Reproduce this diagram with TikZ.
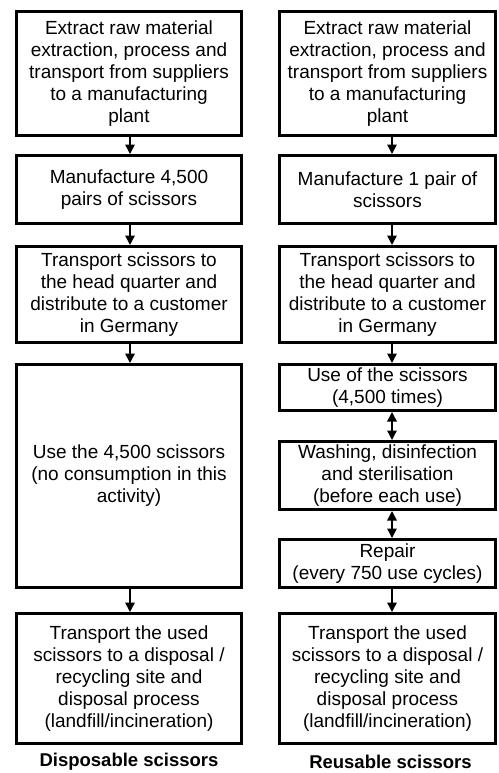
\documentclass[tikz,border=0pt]{standalone}
\usepackage{fontspec}
\setmainfont{Liberation Sans}
\usetikzlibrary{arrows.meta}
\begin{document}
\begin{tikzpicture}[x=1pt,y=-1pt,
 box/.style={draw, line width=3pt, align=center, inner sep=0pt, font=\fontsize{19}{22}\selectfont},
 flow/.style={-{Triangle[length=9.5pt,width=9.5pt]}, line width=1.5pt},
 both/.style={{Triangle[length=9.5pt,width=9.5pt]}-{Triangle[length=9.5pt,width=9.5pt]}, line width=1.5pt},
 lab/.style={font=\bfseries\fontsize{18.5}{22}\selectfont}]
\useasboundingbox (0,0) rectangle (498,773);
% left column
\node[box, minimum width=225pt, minimum height=124pt] (L1) at (129,73.5) {Extract raw material\\extraction, process and\\transport from suppliers\\to a manufacturing\\plant};
\node[box, minimum width=225pt, minimum height=68pt] (L2) at (129,189.5) {Manufacture 4,500\\pairs of scissors};
\node[box, minimum width=225pt, minimum height=96pt] (L3) at (129,294.5) {Transport scissors to\\the head quarter and\\distribute to a customer\\in Germany};
\node[box, minimum width=225pt, minimum height=223pt] (L4) at (129,476) {Use the 4,500 scissors\\(no consumption in this\\activity)};
\node[box, minimum width=225pt, minimum height=130pt] (L5) at (129,678.5) {Transport the used\\scissors to a disposal /\\recycling site and\\disposal process\\(landfill/incineration)};
\node[lab] (LL) at (129,762) {Disposable scissors};
% right column
\node[box, minimum width=216pt, minimum height=124pt] (R1) at (387.5,73.5) {Extract raw material\\extraction, process and\\transport from suppliers\\to a manufacturing\\plant};
\node[box, minimum width=216pt, minimum height=68pt] (R2) at (387.5,189.5) {Manufacture 1 pair of\\scissors};
\node[box, minimum width=216pt, minimum height=96pt] (R3) at (387.5,294.5) {Transport scissors to\\the head quarter and\\distribute to a customer\\in Germany};
\node[box, minimum width=216pt, minimum height=46pt] (R4) at (387.5,387.5) {Use of the scissors\\(4,500 times)};
\node[box, minimum width=216pt, minimum height=68pt] (R5) at (387.5,475.5) {Washing, disinfection\\and sterilisation\\(before each use)};
\node[box, minimum width=216pt, minimum height=48pt] (R6) at (387.5,563.5) {Repair\\(every 750 use cycles)};
\node[box, minimum width=216pt, minimum height=130pt] (R7) at (387.5,678.5) {Transport the used\\scissors to a disposal /\\recycling site and\\disposal process\\(landfill/incineration)};
\node[lab] (RL) at (390.5,762) {Reusable scissors};
% connectors left
\draw[flow] ([xshift=1pt]L1.south) -- ([xshift=1pt]L2.north);
\draw[flow] ([xshift=1pt]L2.south) -- ([xshift=1pt]L3.north);
\draw[flow] ([xshift=1pt]L3.south) -- ([xshift=1pt]L4.north);
\draw[flow] ([xshift=1pt]L4.south) -- ([xshift=1pt]L5.north);
% connectors right
\draw[flow] ([xshift=4.5pt]R1.south) -- ([xshift=4.5pt]R2.north);
\draw[flow] ([xshift=4.5pt]R2.south) -- ([xshift=4.5pt]R3.north);
\draw[flow] ([xshift=4.5pt]R3.south) -- ([xshift=4.5pt]R4.north);
\draw[both] ([xshift=4.5pt]R4.south) -- ([xshift=4.5pt]R5.north);
\draw[both] ([xshift=4.5pt]R5.south) -- ([xshift=4.5pt]R6.north);
\draw[flow] ([xshift=4.5pt]R6.south) -- ([xshift=4.5pt]R7.north);
\end{tikzpicture}
\end{document}
